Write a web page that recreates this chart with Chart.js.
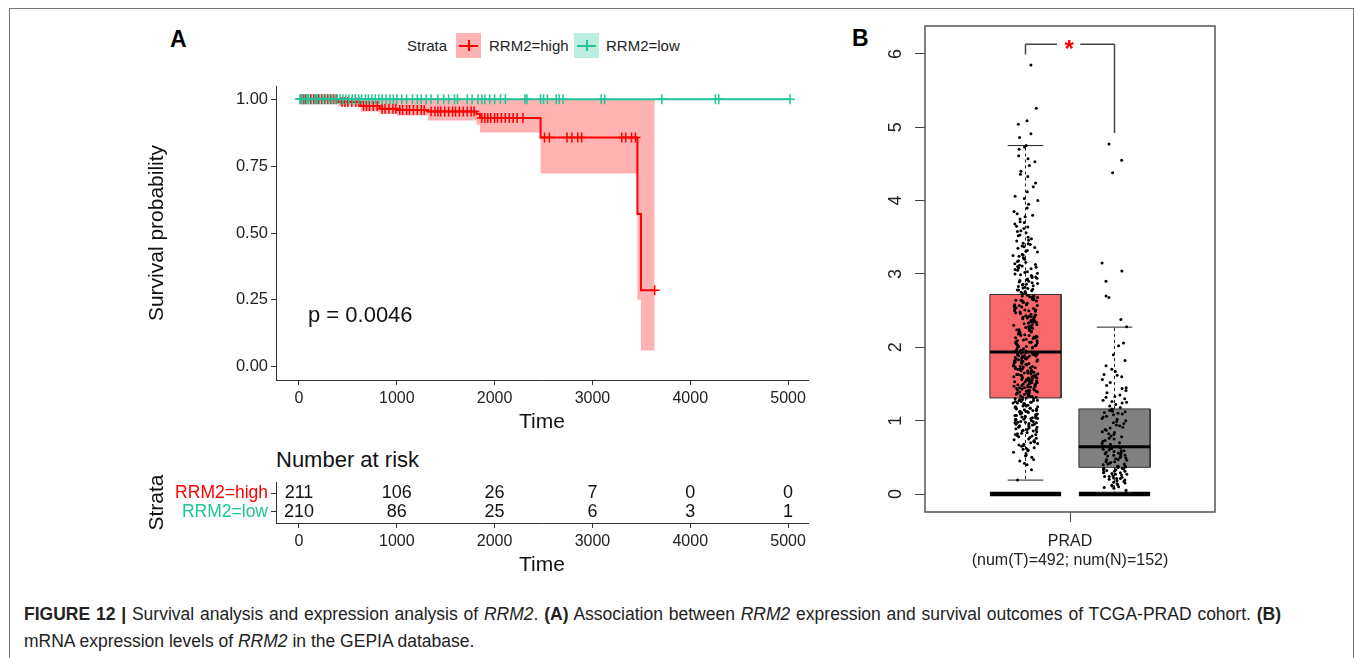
<!DOCTYPE html>
<html>
<head>
<meta charset="utf-8">
<script src="https://cdn.jsdelivr.net/npm/chart.js@4.4.0/dist/chart.umd.min.js"></script>
<style>
  body { margin: 0; width: 1355px; height: 658px; background: #fff; position: relative; overflow: hidden;
         font-family: 'Liberation Sans', Arial, Helvetica, sans-serif; color: #222; }
  .frame { position: absolute; left: 9px; top: 8px; width: 1343px; height: 700px; border: 1px solid #777; border-bottom: none; }
  .abs { position: absolute; white-space: nowrap; line-height: 1; }
  canvas { position: absolute; }
  .panel { font-weight: bold; font-size: 23px; color: #000; }
  .key { position: absolute; width: 25px; height: 25px; }
  .key .h { position: absolute; left: 3px; right: 3px; top: 11.5px; height: 2px; }
  .key .v { position: absolute; left: 11.5px; width: 2px; top: 7px; height: 11px; }
  .cap { position: absolute; left: 24px; font-size: 17.5px; line-height: 1; color: #222; white-space: nowrap; }
  .cap.first { width: 1257px; text-align: justify; text-align-last: justify; white-space: normal; }
</style>
</head>
<body>
<div class="frame"></div>

<div class="abs panel" style="left:170px;top:28px">A</div>
<div class="abs panel" style="left:852px;top:27px">B</div>

<!-- legend for the survival curves -->
<div class="abs" style="left:407px;top:38px;font-size:15px">Strata</div>
<div class="key" style="left:456px;top:33px;background:rgba(255,0,0,0.3)"><span class="h" style="background:#ff0000"></span><span class="v" style="background:#ff0000"></span></div>
<div class="abs" style="left:489px;top:38px;font-size:15px">RRM2=high</div>
<div class="key" style="left:574px;top:33px;background:rgba(32,196,154,0.3)"><span class="h" style="background:#20c49a"></span><span class="v" style="background:#20c49a"></span></div>
<div class="abs" style="left:606px;top:38px;font-size:15px">RRM2=low</div>

<div class="abs" style="left:276px;top:449px;font-size:22px;color:#111">Number at risk</div>

<canvas id="km" width="680" height="370" style="left:140px;top:76px"></canvas>
<canvas id="risk" width="680" height="140" style="left:140px;top:442px"></canvas>
<canvas id="box" width="380" height="575" style="left:860px;top:15px"></canvas>

<div class="cap first" style="top:606px"><b>FIGURE 12 |</b> Survival analysis and expression analysis of <i>RRM2</i>. <b>(A)</b> Association between <i>RRM2</i> expression and survival outcomes of TCGA-PRAD cohort. <b>(B)</b></div>
<div class="cap" style="top:633px">mRNA expression levels of <i>RRM2</i> in the GEPIA database.</div>

<script>
// ---- survival data ----
const strata = ['RRM2=high', 'RRM2=low'];
const timeTicks = [0, 1000, 2000, 3000, 4000, 5000];
const survTicks = [0, 0.25, 0.5, 0.75, 1];

const highTimes = [0, 400, 630, 824, 1000, 1320, 1815, 1850, 2470, 3460, 3496, 3637];
const highSurv  = [1, 0.99, 0.975, 0.965, 0.96, 0.955, 0.945, 0.93, 0.857, 0.571, 0.286, 0.286];
const highLower = [1, 0.975, 0.955, 0.945, 0.94, 0.921, 0.905, 0.876, 0.723, 0.25, 0.06, 0.06];
const highUpper = [1, 1, 1, 1, 1, 1, 1, 1, 1, 1, 1, 1];

const lowTimes = [0, 5024];
const lowSurv  = [1, 1];

const highCensor = [20, 45, 70, 95, 120, 150, 175, 200, 230, 260, 290, 320, 350, 380, 440, 470, 500, 540,
  580, 610, 660, 690, 720, 760, 800, 850, 880, 920, 960, 990, 1030, 1060, 1100, 1130, 1170, 1210, 1250,
  1280, 1350, 1390, 1420, 1450, 1490, 1530, 1570, 1600, 1640, 1680, 1720, 1760, 1790, 1870, 1900, 1930,
  1960, 2000, 2030, 2070, 2110, 2150, 2190, 2230, 2290, 2510, 2560, 2740, 2790, 2850, 2890, 3300, 3340,
  3400, 3440, 3637];
const lowCensor = [10, 30, 55, 80, 100, 130, 160, 185, 210, 240, 270, 300, 330, 360, 390, 420, 450, 480,
  510, 545, 575, 610, 640, 680, 710, 745, 780, 815, 850, 890, 930, 965, 1000, 1050, 1100, 1160, 1210,
  1250, 1300, 1350, 1420, 1480, 1530, 1590, 1620, 1720, 1770, 1830, 1870, 1900, 1950, 2000, 2060, 2110,
  2310, 2330, 2470, 2500, 2540, 2630, 2660, 2700, 3090, 3125, 3710, 4257, 4292, 5020];

const pValueText = 'p = 0.0046';
const pValuePos = [92, 0.19];

// ---- number at risk ----
const riskTimes = [0, 1000, 2000, 3000, 4000, 5000];
const riskHigh = [211, 106, 26, 7, 0, 0];
const riskLow  = [210, 86, 25, 6, 3, 1];

// ---- GEPIA box plot (PRAD) ----
const groups = ['Tumor', 'Normal'];
const groupIndex = [1, 2];
const whiskerLow  = [0.19, 0.02];
const boxQ1       = [1.31, 0.364];
const boxMedian   = [1.935, 0.645];
const boxQ3       = [2.72, 1.16];
const whiskerHigh = [4.75, 2.275];
const exprTicks = [0, 1, 2, 3, 4, 5, 6];
const sigBracket = [5.99, 6.13, 4.92]; // left foot, top, right foot

const tumorExpr = [
  0.19,0.33,0.40,0.42,0.45,0.47,0.50,0.52,0.53,0.55,0.57,0.59,0.60,0.61,0.63,0.65,0.66,0.67,0.69,0.70,
  0.71,0.73,0.74,0.75,0.76,0.78,0.79,0.80,0.81,0.82,0.83,0.84,0.86,0.87,0.88,0.89,0.90,0.91,0.92,0.93,
  0.94,0.95,0.96,0.97,0.98,0.99,1.00,1.01,1.02,1.03,1.04,1.05,1.05,1.06,1.07,1.08,1.09,1.10,1.11,1.12,
  1.13,1.13,1.14,1.15,1.16,1.17,1.18,1.19,1.20,1.20,1.21,1.22,1.23,1.24,1.25,1.26,1.27,1.27,1.28,1.29,1.30,
  1.31,1.32,1.33,1.33,1.34,1.35,1.36,1.36,1.37,1.38,1.39,1.40,1.41,1.41,1.42,1.43,1.44,1.45,1.45,1.46,
  1.47,1.48,1.49,1.49,1.50,1.51,1.52,1.53,1.54,1.54,1.55,1.56,1.57,1.58,1.58,1.59,1.60,1.61,1.62,1.62,
  1.63,1.64,1.65,1.66,1.67,1.67,1.68,1.69,1.70,1.71,1.71,1.72,1.73,1.74,1.75,1.76,1.76,1.77,1.78,1.79,
  1.80,1.80,1.81,1.82,1.83,1.84,1.85,1.85,1.86,1.87,1.88,1.89,1.89,1.90,1.91,1.92,1.93,1.93,1.94,
  1.95,1.96,1.97,1.99,2.00,2.01,2.02,2.03,2.05,2.06,2.07,2.08,2.09,2.10,2.12,2.13,2.14,2.15,2.16,2.17,
  2.19,2.20,2.21,2.22,2.23,2.24,2.26,2.27,2.28,2.29,2.30,2.31,2.33,2.34,2.35,2.36,2.37,2.38,2.40,2.41,
  2.42,2.43,2.44,2.45,2.47,2.48,2.49,2.50,2.51,2.52,2.54,2.55,2.56,2.57,2.58,2.59,2.61,2.62,2.63,2.64,
  2.65,2.66,2.68,2.69,2.70,2.71,
  2.73,2.74,2.76,2.77,2.78,2.80,2.81,2.83,2.84,2.86,2.88,2.89,2.91,2.93,2.94,2.96,2.98,3.00,3.01,3.03,
  3.05,3.07,3.08,3.10,3.12,3.14,3.16,3.18,3.20,3.22,3.25,3.27,3.30,3.32,3.35,3.37,3.40,3.42,3.45,3.48,
  3.50,3.53,3.56,3.59,3.62,3.65,3.68,3.71,3.75,3.78,3.80,3.82,3.85,3.90,3.95,4.00,4.03,4.06,4.12,4.19,
  4.24,4.33,4.36,4.40,4.48,4.53,4.57,4.61,4.70,4.73,4.75,4.86,4.91,5.04,5.09,5.26,5.85,
  0.62,0.68,0.72,0.77,0.81,0.85,0.88,0.92,0.95,0.98,1.01,1.03,1.06,1.08,1.11,1.14,1.16,1.18,1.21,1.23,
  1.26,1.28,1.29,0.91,0.97,1.04,1.09,1.12,1.17,1.22,1.24,0.86,0.94,1.02,1.07,1.15,1.19,1.25,1.30,0.99,
  1.32,1.34,1.37,1.39,1.42,1.44,1.46,1.48,1.51,1.53,1.55,1.57,1.59,1.61,1.63,1.65,1.68,1.70,1.72,1.74,
  1.77,1.79,1.81,1.83,1.86,1.88,1.90,1.92,1.35,1.40,1.47,1.52,1.56,1.60,1.64,1.69,1.73,1.78,1.82,1.87,
  1.91,1.38,1.50,1.66,1.84,
  1.96,1.98,2.01,2.04,2.07,2.11,2.14,2.18,2.21,2.25,2.28,2.32,2.35,2.39,2.42,2.46,2.50,2.53,2.57,2.60,
  2.64,2.67,2.70,2.00,2.06,2.13,2.19,2.24,2.31,2.37,2.44,2.51,2.58,2.63,2.69,2.03,2.16,2.27,2.41,2.55,
  2.66,2.09,2.33,
  2.75,2.79,2.82,2.85,2.87,2.90,2.92,2.95,2.97,3.02,3.06,3.09,3.13,3.17,3.21,3.26,3.31,3.36,3.41,3.46,
  3.52,3.58,3.64,3.70,2.78,2.86,2.99,3.11,3.24,3.38
];
const normalExpr = [
  0.02,0.05,0.08,0.09,0.10,0.11,0.12,0.13,0.14,0.15,0.16,0.17,0.18,0.19,0.20,0.21,0.21,0.22,0.23,0.24,
  0.24,0.25,0.26,0.27,0.27,0.28,0.29,0.29,0.30,0.31,0.31,0.32,0.33,0.33,0.34,0.35,0.35,0.36,
  0.37,0.38,0.38,0.39,0.40,0.41,0.41,0.42,0.43,0.44,0.44,0.45,0.46,0.47,0.47,0.48,0.49,0.50,0.50,0.51,
  0.52,0.53,0.53,0.54,0.55,0.56,0.56,0.57,0.58,0.59,0.59,0.60,0.61,0.62,0.62,0.63,0.64,0.64,
  0.65,0.66,0.68,0.69,0.70,0.72,0.73,0.75,0.76,0.78,0.79,0.81,0.82,0.84,0.85,0.87,0.88,0.90,0.91,0.93,
  0.94,0.96,0.97,0.99,1.00,1.02,1.03,1.05,1.06,1.08,1.09,1.10,1.11,1.12,1.13,1.14,1.15,1.16,
  1.18,1.20,1.22,1.24,1.25,1.26,1.28,1.30,1.32,1.33,1.35,1.38,1.41,1.44,1.45,1.48,1.52,1.56,1.60,1.62,
  1.63,1.67,1.70,1.75,1.82,1.90,2.02,2.06,2.28,2.38,2.68,2.70,2.90,3.04,3.15,4.38,4.55,4.77
];

// ---- colours ----
const highColor = '#ff0000';
const lowColor = '#20c49a';
const axisColor = '#333';

Chart.defaults.font.family = "'Liberation Sans', Arial, Helvetica, sans-serif";
Chart.defaults.color = '#222';
Chart.defaults.animation = false;
Chart.defaults.plugins.legend.display = false;
Chart.defaults.plugins.tooltip.enabled = false;

function xy(xs, ys) { return xs.map((x, i) => ({ x: x, y: ys[i] })); }
function survAt(times, surv, t) {
  let s = surv[0];
  for (let i = 0; i < times.length; i++) if (times[i] <= t) s = surv[i];
  return s;
}
function censorPoints(cens, times, surv) { return cens.map(t => ({ x: t, y: survAt(times, surv, t) })); }
function fixedTicks(list) { return scale => { scale.ticks = list.map(v => ({ value: v })); }; }
// fix the axis box size and drop the extra label padding chart.js adds
function fitX(h) { return s => { s.height = h; s.paddingLeft = 0; s.paddingRight = 0; }; }
function fitY(w) { return s => { s.width = w; s.paddingTop = 0; s.paddingBottom = 0; }; }
const plainNumber = v => String(v);

// ---------------- Kaplan-Meier ----------------
const pValuePlugin = {
  id: 'pvalue',
  afterDatasetsDraw(chart) {
    const { ctx, scales: { x, y } } = chart;
    ctx.save();
    ctx.font = "22px 'Liberation Sans', Arial, sans-serif";
    ctx.fillStyle = '#111';
    ctx.textAlign = 'left';
    ctx.textBaseline = 'middle';
    ctx.fillText(pValueText, x.getPixelForValue(pValuePos[0]), y.getPixelForValue(pValuePos[1]));
    ctx.restore();
  }
};

new Chart(document.getElementById('km'), {
  type: 'line',
  data: {
    datasets: [
      { data: xy(highTimes, highLower), stepped: true, borderWidth: 0, pointRadius: 0, fill: false, order: 6 },
      { data: xy(highTimes, highUpper), stepped: true, borderWidth: 0, pointRadius: 0, fill: '-1',
        backgroundColor: 'rgba(255,0,0,0.3)', order: 5 },
      { data: xy(highTimes, highSurv), stepped: true, borderColor: highColor, borderWidth: 2, pointRadius: 0, order: 4 },
      { data: xy(lowTimes, lowSurv), stepped: true, borderColor: lowColor, borderWidth: 2, pointRadius: 0, order: 3 },
      { type: 'scatter', data: censorPoints(highCensor, highTimes, highSurv), pointStyle: 'cross',
        pointRadius: 5, borderColor: highColor, borderWidth: 1.5, order: 2 },
      { type: 'scatter', data: censorPoints(lowCensor, lowTimes, lowSurv), pointStyle: 'cross',
        pointRadius: 5, borderColor: lowColor, borderWidth: 1.5, order: 1 }
    ]
  },
  options: {
    responsive: false,
    layout: { padding: { top: 10, right: 12, left: 0, bottom: 0 } },
    scales: {
      x: {
        type: 'linear', min: -235, max: 5204,
        afterBuildTicks: fixedTicks(timeTicks),
        afterFit: fitX(66),
        grid: { drawOnChartArea: false, tickLength: 5, color: axisColor },
        border: { color: axisColor, width: 1 },
        ticks: { font: { size: 16 }, color: '#222', padding: 4, maxRotation: 0, callback: plainNumber },
        title: { display: true, text: 'Time', font: { size: 21 }, color: '#111', padding: { top: 0, bottom: 11 } }
      },
      y: {
        type: 'linear', min: -0.05, max: 1.05,
        afterBuildTicks: fixedTicks(survTicks),
        afterFit: fitY(136),
        grid: { drawOnChartArea: false, tickLength: 5, color: axisColor },
        border: { color: axisColor, width: 1 },
        ticks: { font: { size: 16.5 }, color: '#222', padding: 3, callback: v => v.toFixed(2) },
        title: { display: true, text: 'Survival probability', font: { size: 21 }, color: '#111', padding: { top: 5, bottom: 0 } }
      }
    }
  },
  plugins: [pValuePlugin]
});

// ---------------- number at risk table ----------------
const riskTextPlugin = {
  id: 'risktext',
  afterDatasetsDraw(chart) {
    const { ctx, scales: { x, y } } = chart;
    ctx.save();
    ctx.font = "18px 'Liberation Sans', Arial, sans-serif";
    ctx.fillStyle = '#111';
    ctx.textAlign = 'center';
    ctx.textBaseline = 'middle';
    riskTimes.forEach((t, i) => {
      ctx.fillText(String(riskHigh[i]), x.getPixelForValue(t), y.getPixelForValue(2));
      ctx.fillText(String(riskLow[i]), x.getPixelForValue(t), y.getPixelForValue(1));
    });
    ctx.restore();
  }
};

new Chart(document.getElementById('risk'), {
  type: 'scatter',
  data: { datasets: [] },
  options: {
    responsive: false,
    layout: { padding: { top: 40, right: 12, left: 0, bottom: 0 } },
    scales: {
      x: {
        type: 'linear', min: -235, max: 5204,
        afterBuildTicks: fixedTicks(riskTimes),
        afterFit: fitX(59),
        grid: { drawOnChartArea: false, tickLength: 5, color: axisColor },
        border: { color: axisColor, width: 1 },
        ticks: { font: { size: 16 }, color: '#222', padding: 4, maxRotation: 0, callback: plainNumber },
        title: { display: true, text: 'Time', font: { size: 21 }, color: '#111', padding: { top: 0, bottom: 4 } }
      },
      y: {
        type: 'linear', min: 0.4, max: 2.6,
        afterBuildTicks: fixedTicks([1, 2]),
        afterFit: fitY(136),
        grid: { drawOnChartArea: false, tickLength: 5, color: axisColor },
        border: { color: axisColor, width: 1 },
        ticks: {
          font: { size: 17.5 }, padding: 3,
          callback: v => (v === 2 ? strata[0] : strata[1]),
          color: c => (c.tick && c.tick.value === 2 ? highColor : lowColor)
        },
        title: { display: true, text: 'Strata', font: { size: 21 }, color: '#111', padding: { top: 5, bottom: 0 } }
      }
    }
  },
  plugins: [riskTextPlugin]
});

// ---------------- box plot ----------------
const halfBox = 0.4, halfCap = 0.2, jitterWidth = 0.28;
// deterministic horizontal jitter for the dots (position only, values come from the arrays)
function jitter(i) {
  const h = Math.sin(i * 12.9898 + 78.233) * 43758.5453;
  return ((h - Math.floor(h)) - 0.5) * jitterWidth;
}
function segments(pairs) {
  const out = [];
  pairs.forEach((p, i) => {
    if (i > 0) out.push({ x: p[0].x, y: null });
    out.push(p[0], p[1]);
  });
  return out;
}
function boxShape(k) {
  const g = groupIndex[k];
  return [
    { x: g - halfBox, y: boxQ1[k] }, { x: g - halfBox, y: boxQ3[k] },
    { x: g + halfBox, y: boxQ3[k] }, { x: g + halfBox, y: boxQ1[k] },
    { x: g - halfBox, y: boxQ1[k] }
  ];
}
const boxColors = ['#f8696b', '#808080'];

const medianLines = segments(groupIndex.map((g, k) => [{ x: g - halfBox, y: boxMedian[k] }, { x: g + halfBox, y: boxMedian[k] }]));
const zeroLines = segments(groupIndex.map(g => [{ x: g - halfBox, y: 0 }, { x: g + halfBox, y: 0 }]));
const capLines = segments([].concat(...groupIndex.map((g, k) => [
  [{ x: g - halfCap, y: whiskerHigh[k] }, { x: g + halfCap, y: whiskerHigh[k] }],
  [{ x: g - halfCap, y: whiskerLow[k] }, { x: g + halfCap, y: whiskerLow[k] }]
])));
const whiskerLines = segments([].concat(...groupIndex.map((g, k) => [
  [{ x: g, y: boxQ3[k] }, { x: g, y: whiskerHigh[k] }],
  [{ x: g, y: boxQ1[k] }, { x: g, y: whiskerLow[k] }]
])));
const bracketLines = segments([
  [{ x: groupIndex[0], y: sigBracket[0] }, { x: groupIndex[0], y: sigBracket[1] }],
  [{ x: groupIndex[0], y: sigBracket[1] }, { x: 1.355, y: sigBracket[1] }],
  [{ x: 1.615, y: sigBracket[1] }, { x: groupIndex[1], y: sigBracket[1] }],
  [{ x: groupIndex[1], y: sigBracket[1] }, { x: groupIndex[1], y: sigBracket[2] }]
]);
const exprPoints = [].concat(
  tumorExpr.map((v, i) => ({ x: groupIndex[0] + jitter(i), y: v })),
  normalExpr.map((v, i) => ({ x: groupIndex[1] + jitter(i + 700), y: v }))
);

const boxFramePlugin = {
  id: 'boxframe',
  afterDatasetsDraw(chart) {
    const { ctx, chartArea: a, scales: { x, y } } = chart;
    ctx.save();
    ctx.strokeStyle = '#555';
    ctx.lineWidth = 1.5;
    ctx.strokeRect(a.left, a.top, a.right - a.left, a.bottom - a.top);
    ctx.font = "bold 24px 'Liberation Sans', Arial, sans-serif";
    ctx.fillStyle = '#ff0000';
    ctx.textAlign = 'center';
    ctx.textBaseline = 'middle';
    ctx.fillText('*', x.getPixelForValue(1.49), y.getPixelForValue(sigBracket[1]) + 6);
    ctx.restore();
  }
};

new Chart(document.getElementById('box'), {
  type: 'line',
  data: {
    datasets: [
      { type: 'scatter', data: exprPoints, pointRadius: 1.5, pointBorderWidth: 0, backgroundColor: '#000', borderColor: '#000', order: 1 },
      { data: medianLines, borderColor: '#000', borderWidth: 3, pointRadius: 0, spanGaps: false, order: 2 },
      { data: capLines, borderColor: '#222', borderWidth: 1, pointRadius: 0, spanGaps: false, order: 3 },
      { data: whiskerLines, borderColor: '#222', borderWidth: 1, borderDash: [3, 3], pointRadius: 0, spanGaps: false, order: 4 },
      { data: zeroLines, borderColor: '#000', borderWidth: 4.5, pointRadius: 0, spanGaps: false, order: 5 },
      { data: boxShape(0), borderColor: '#333', borderWidth: 1, backgroundColor: boxColors[0], fill: 'shape', pointRadius: 0, order: 7 },
      { data: boxShape(1), borderColor: '#333', borderWidth: 1, backgroundColor: boxColors[1], fill: 'shape', pointRadius: 0, order: 8 },
      { data: bracketLines, borderColor: '#444', borderWidth: 1.5, pointRadius: 0, spanGaps: false, order: 6 }
    ]
  },
  options: {
    responsive: false,
    layout: { padding: { top: 11, right: 25, left: 0, bottom: 0 } },
    scales: {
      x: {
        type: 'linear', min: -0.129, max: 3.129,
        afterBuildTicks: fixedTicks([1.5]),
        afterFit: fitX(78),
        grid: { drawOnChartArea: false, tickLength: 10, color: '#444' },
        border: { display: false },
        ticks: { font: { size: 16 }, color: '#222', padding: 10, maxRotation: 0,
                 callback: () => ['PRAD', '(num(T)=492; num(N)=152)'] }
      },
      y: {
        type: 'linear', min: -0.245, max: 6.38,
        afterBuildTicks: fixedTicks(exprTicks),
        afterFit: fitY(65),
        grid: { drawOnChartArea: false, tickLength: 10, color: '#444' },
        border: { display: false },
        ticks: { font: { size: 18 }, color: '#222', padding: 14, minRotation: 90, maxRotation: 90, crossAlign: 'center' }
      }
    }
  },
  plugins: [boxFramePlugin]
});
</script>
</body>
</html>
